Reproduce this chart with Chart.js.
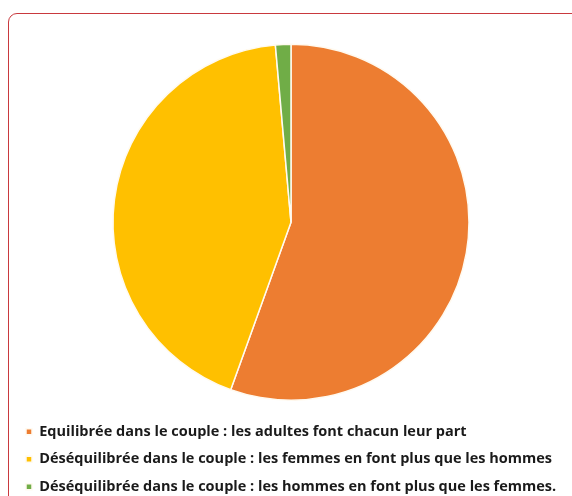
<!DOCTYPE html>
<html><head><meta charset="utf-8">
<script src="https://cdn.jsdelivr.net/npm/chart.js@4.4.1/dist/chart.umd.min.js"></script>
<style>
html,body{margin:0;padding:0;width:572px;height:496px;overflow:hidden;background:#fff;}
#frame{position:absolute;left:8px;top:13px;width:620px;height:560px;border:1.5px solid #c9393e;border-radius:9px;box-sizing:border-box;}
#wrap{position:absolute;left:0;top:0;width:572px;height:504px;}
</style></head><body>
<div id="frame"></div>
<div id="wrap"><canvas id="c" width="572" height="504"></canvas></div>
<script>
const categories = [
  "Equilibrée dans le couple : les adultes font chacun leur part",
  "Déséquilibrée dans le couple : les femmes en font plus que les hommes",
  "Déséquilibrée dans le couple : les hommes en font plus que les femmes."
];
const values = [55.5, 43.1, 1.4];
const colors = ["#ED7D31", "#FFC000", "#70AD47"];

new Chart(document.getElementById('c'), {
  type: 'pie',
  data: {
    labels: categories,
    datasets: [{
      data: values,
      backgroundColor: colors,
      borderColor: '#fffaf0',
      borderWidth: 1.5,
      radius: 178
    }]
  },
  options: {
    responsive: false,
    animation: false,
    layout: { padding: { top: 33, left: 13, right: 3, bottom: 0 } },
    plugins: {
      tooltip: { enabled: false },
      legend: {
        position: 'bottom',
        align: 'start',
        labels: {
          boxWidth: 6,
          boxHeight: 6,
          padding: 13,
          color: '#1a1a1a',
          font: { family: 'Open Sans', size: 14.5, weight: 'bold' }
        }
      }
    }
  }
});
</script>
</body></html>
